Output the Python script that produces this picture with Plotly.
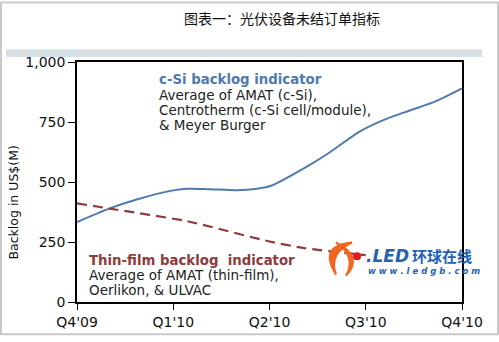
import plotly.graph_objects as go

# ---- data ----
quarter_labels = ["Q4'09", "Q1'10", "Q2'10", "Q3'10", "Q4'10"]
quarter_pos = [0, 1, 2, 3, 4]
y_ticks = [0, 250, 500, 750, 1000]
y_tick_labels = ["0", "250", "500", "750", "1,000"]

csi_x = [0, 0.34, 0.62, 0.97, 1.14, 1.38, 1.66, 1.87, 2.0, 2.1, 2.41, 2.62, 2.94, 3.17, 3.45, 3.73, 4.0]
csi_y = [333, 390, 427, 463, 472, 470, 466, 472, 482, 500, 569, 622, 711, 756, 797, 837, 890]

thin_x = [0, 0.34, 1.14, 2.0, 2.37, 2.82, 3.0]
thin_y = [411, 389, 337, 252, 224, 203, 195]

title = "图表一：光伏设备未结订单指标"
blue = "#4F7AAE"
red = "#8E3B3B"

fig = go.Figure()
fig.add_trace(go.Scatter(x=csi_x, y=csi_y, mode="lines",
                         line=dict(color=blue, width=2, shape="spline", smoothing=0.8),
                         showlegend=False, hoverinfo="skip"))
fig.add_trace(go.Scatter(x=thin_x, y=thin_y, mode="lines",
                         line=dict(color=red, width=2.2, dash="10px,6px", shape="spline", smoothing=0.6),
                         showlegend=False, hoverinfo="skip"))

font_main = "DejaVu Sans"
L, R, T, B = 77, 37, 62, 34
W, H = 499, 342
pw, ph = W - L - R, H - T - B


def px(x):
    return (x - L) / pw


def py(y):
    return (H - B - y) / ph


annotations = []
# title
annotations.append(dict(x=px(282), y=py(17), xref="paper", yref="paper", text=title,
                        showarrow=False, font=dict(family="Noto Sans CJK SC", size=14, color="#111"),
                        xanchor="center", yanchor="middle"))
# y axis title
annotations.append(dict(x=px(13), y=py(206), xref="paper", yref="paper", text="Backlog in US$(M)",
                        showarrow=False, textangle=-90, font=dict(family=font_main, size=12.5, color="#111"),
                        xanchor="center", yanchor="middle"))
# c-Si block
csi_lines = [("<b>c-Si backlog indicator</b>", blue, 80, 13.3),
             ("Average of AMAT (c-Si),", "#222", 96, 13.5),
             ("Centrotherm (c-Si cell/module),", "#222", 111.5, 13.5),
             ("& Meyer Burger", "#222", 127, 13.5)]
for t, c, yy, fs in csi_lines:
    annotations.append(dict(x=px(157), y=py(yy), xref="paper", yref="paper", text=t, showarrow=False,
                            font=dict(family=font_main, size=fs, color=c), xanchor="left", yanchor="middle"))
thin_lines = [("<b>Thin-film backlog  indicator</b>", red, 265, 13.3),
              ("Average of AMAT (thin-film),", "#222", 280, 13.5),
              ("Oerlikon, & ULVAC", "#222", 296, 13.5)]
for t, c, yy, fs in thin_lines:
    annotations.append(dict(x=px(87), y=py(yy), xref="paper", yref="paper", text=t, showarrow=False,
                            font=dict(family=font_main, size=fs, color=c), xanchor="left", yanchor="middle"))
# watermark logo text
annotations.append(dict(x=px(364), y=py(261), xref="paper", yref="paper",
                        text="<b><i>.LED</i></b>", showarrow=False,
                        font=dict(family=font_main, size=17, color="#2463B4"), xanchor="left", yanchor="middle"))
annotations.append(dict(x=px(410), y=py(260), xref="paper", yref="paper",
                        text="<b>环球在线</b>", showarrow=False,
                        font=dict(family="Noto Sans CJK SC", size=15, color="#2463B4"), xanchor="left", yanchor="middle"))
annotations.append(dict(x=px(366), y=py(276), xref="paper", yref="paper",
                        text="<b><i>w w w . l e d g b . c o m</i></b>", showarrow=False,
                        font=dict(family=font_main, size=8.5, color="#2463B4"), xanchor="left", yanchor="middle"))

shapes = [
    # outer border
    dict(type="rect", xref="paper", yref="paper", x0=px(1), x1=px(W - 1), y0=py(H - 1), y1=py(1),
         line=dict(color="#C9C9C9", width=2), layer="below"),
    # band
    dict(type="rect", xref="paper", yref="paper", x0=px(6), x1=px(482), y0=py(57), y1=py(49),
         fillcolor="#D6E0E6", line=dict(width=0), layer="below"),
    # logo orange crescent
    dict(type="path", xref="paper", yref="paper",
         path=f"M {px(352)},{py(247)} Q {px(318)},{py(250)} {px(336)},{py(280)} Q {px(328)},{py(258)} {px(352)},{py(247)} Z",
         fillcolor="#F26522", line=dict(color="#F26522", width=2)),
    dict(type="path", xref="paper", yref="paper",
         path=f"M {px(336)},{py(247)} Q {px(364)},{py(262)} {px(346)},{py(281)} Q {px(357)},{py(262)} {px(336)},{py(247)} Z",
         fillcolor="#F26522", line=dict(color="#F26522", width=2)),
    # red dot
    dict(type="circle", xref="paper", yref="paper", x0=px(353), x1=px(361), y0=py(265), y1=py(257),
         fillcolor="#E8161B", line=dict(width=0)),
]

fig.update_layout(
    width=W, height=H, margin=dict(l=L, r=R, t=T, b=B),
    paper_bgcolor="white", plot_bgcolor="white",
    annotations=annotations, shapes=shapes,
    xaxis=dict(range=[0, 4], tickvals=quarter_pos, ticktext=quarter_labels, showgrid=False, zeroline=False,
               showline=True, linecolor="black", linewidth=1.5, mirror=True, ticks="outside", ticklen=6,
               tickcolor="black", tickfont=dict(family=font_main, size=14, color="#111")),
    yaxis=dict(range=[0, 1000], tickvals=y_ticks, ticktext=y_tick_labels, showgrid=False, zeroline=False,
               showline=True, linecolor="black", linewidth=1.5, mirror=True, ticks="outside", ticklen=7,
               tickcolor="black", tickfont=dict(family=font_main, size=14, color="#111")),
)

fig.write_html("out.html")
